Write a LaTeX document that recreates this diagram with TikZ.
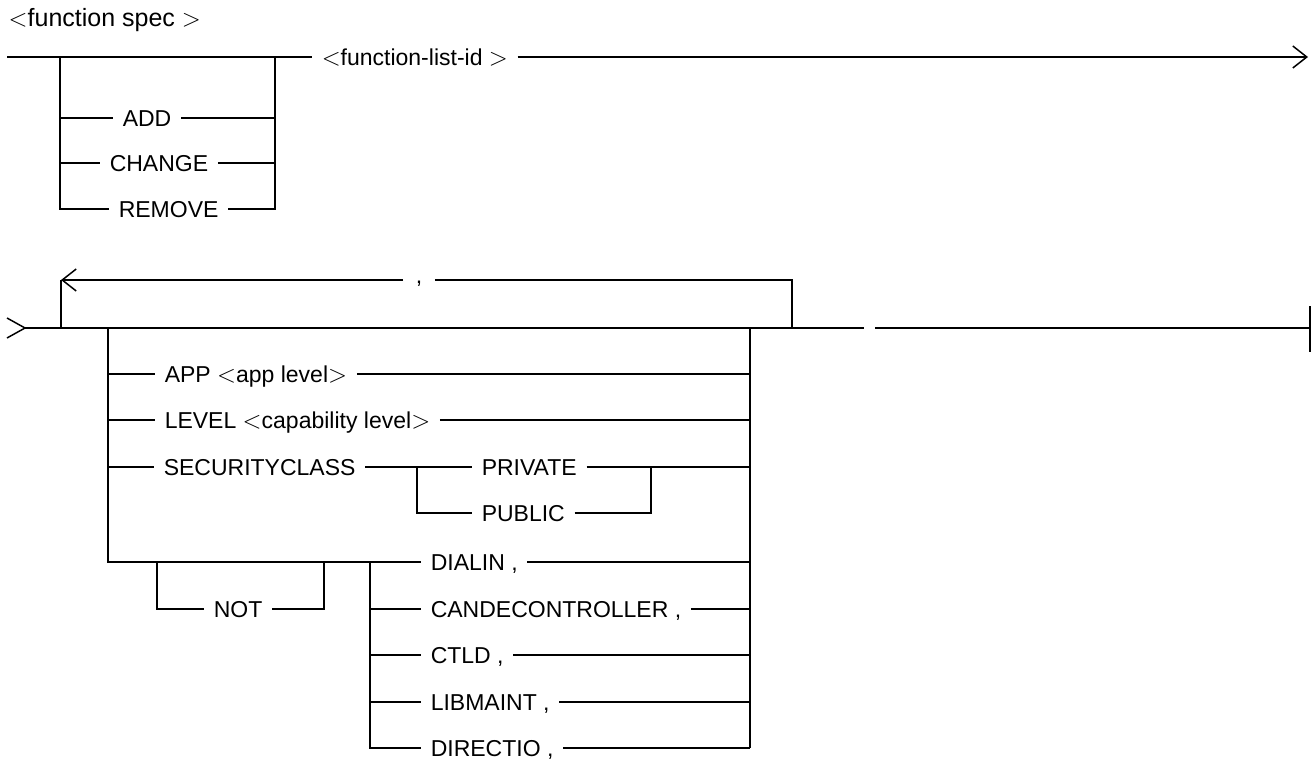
\documentclass[tikz,border=0pt]{standalone}
\usepackage{fontspec}
\setmainfont{Liberation Sans}
\usetikzlibrary{positioning,
                arrows.meta}

\begin{document}
\begin{tikzpicture}[x=1pt,y=-1pt,line width=1.5pt]  % <-- pixel units

\tikzset{
synword/.style={
anchor=west,
inner xsep=9pt,
inner ysep=0pt,
text height=16.5pt,
text depth=0pt,
font=\fontsize{23}{26}\selectfont
},
synarrow/.style={
-{Straight Barb[length=14pt,width=22pt]}
}
}

\useasboundingbox (0,0) rectangle (1314,762);

%----------------------------------
% HEADER
%----------------------------------

\node[synword,inner xsep=0pt,font=\fontsize{25}{28}\selectfont] (title) at (8,18) {$<$function spec $>$};

%----------------------------------
% FUNCTION LINE
%----------------------------------

\coordinate (f0) at (7,57);
\coordinate (f1) at (60,57);
\coordinate (f2) at (275,57);
\coordinate (fend) at (1308,57);

\node[synword] (flid) at (312,57) {$<$function-list-id $>$};
\draw (f0) -- (flid.west);
\draw[synarrow] (flid.east) -- (fend);

\node[synword] (add) at (113,118) {ADD};
\node[synword] (change) at (100,163) {CHANGE};
\node[synword] (remove) at (109,209) {REMOVE};

\draw (f1) |- (remove.west);
\draw (f2) |- (remove.east);
\draw (f1 |- add) -- (add.west);
\draw (add.east) -- (f2 |- add);
\draw (f1 |- change) -- (change.west);
\draw (change.east) -- (f2 |- change);

%----------------------------------
% MAIN LINE AND LOOP
%----------------------------------

\coordinate (e1) at (7,318);
\coordinate (e2) at (7,338);
\coordinate (m0) at (25,328);
\coordinate (m1) at (61,328);
\coordinate (m2) at (108,328);
\coordinate (m3) at (750,328);
\coordinate (m4) at (792,328);
\coordinate (m5) at (864,328);
\coordinate (m6) at (875,328);
\coordinate (m7) at (1310,328);
\coordinate (b1) at (1310,306);
\coordinate (b2) at (1310,352);

\draw (e1) -- (m0) -- (e2);
\draw (m0) -- (m5);
\draw (m6) -- (m7);
\draw (b1) -- (b2);

\coordinate (l1) at (61,280);
\coordinate (l2) at (792,280);
\node[synword,anchor=base,inner xsep=12pt,text height=,text depth=] (sep) at (419,283) {,};
\draw[synarrow] (sep.west |- l1) -- (l1);
\draw (l1) -- (m1);
\draw (sep.east |- l2) -- (l2) -- (m4);

%----------------------------------
% OPTIONS
%----------------------------------

\node[synword] (app) at (155,374) {APP $<$app level$>$};
\node[synword] (level) at (155,420) {LEVEL $<$capability level$>$};
\node[synword] (secclass) at (154,467) {SECURITYCLASS};
\node[synword] (private) at (472,467) {PRIVATE};
\node[synword] (public) at (472,513) {PUBLIC};

\draw (m2 |- app) -- (app.west);
\draw (app.east) -- (m3 |- app);
\draw (m2 |- level) -- (level.west);
\draw (level.east) -- (m3 |- level);
\draw (m2 |- secclass) -- (secclass.west);
\draw (secclass.east) -- (private.west);
\draw (private.east) -- (m3 |- private);

\coordinate (s1) at (417,467);
\coordinate (s2) at (651,467);
\draw (s1) |- (public.west);
\draw (public.east) -| (s2);

%----------------------------------
% NOT AND SWITCHES
%----------------------------------

\coordinate (n0) at (108,562);
\coordinate (n1) at (157,562);
\coordinate (n2) at (324,562);
\coordinate (g0) at (370,562);

\node[synword] (not) at (204,609) {NOT};
\node[synword] (dialin) at (421,562) {DIALIN ,};
\node[synword] (cande) at (421,609) {CANDECONTROLLER ,};
\node[synword] (ctld) at (421,655) {CTLD ,};
\node[synword] (libmaint) at (421,702) {LIBMAINT ,};
\node[synword] (directio) at (421,748) {DIRECTIO ,};

\draw (m2) -- (n0) -- (dialin.west);
\draw (n1) |- (not.west);
\draw (not.east) -| (n2);
\draw (g0) |- (directio.west);
\draw (m3) -- (m3 |- directio);

\foreach \sw in {dialin,cande,ctld,libmaint,directio}
  \draw (\sw.east) -- (m3 |- \sw);
\foreach \sw in {cande,ctld,libmaint}
  \draw (g0 |- \sw) -- (\sw.west);

\end{tikzpicture}
\end{document}
